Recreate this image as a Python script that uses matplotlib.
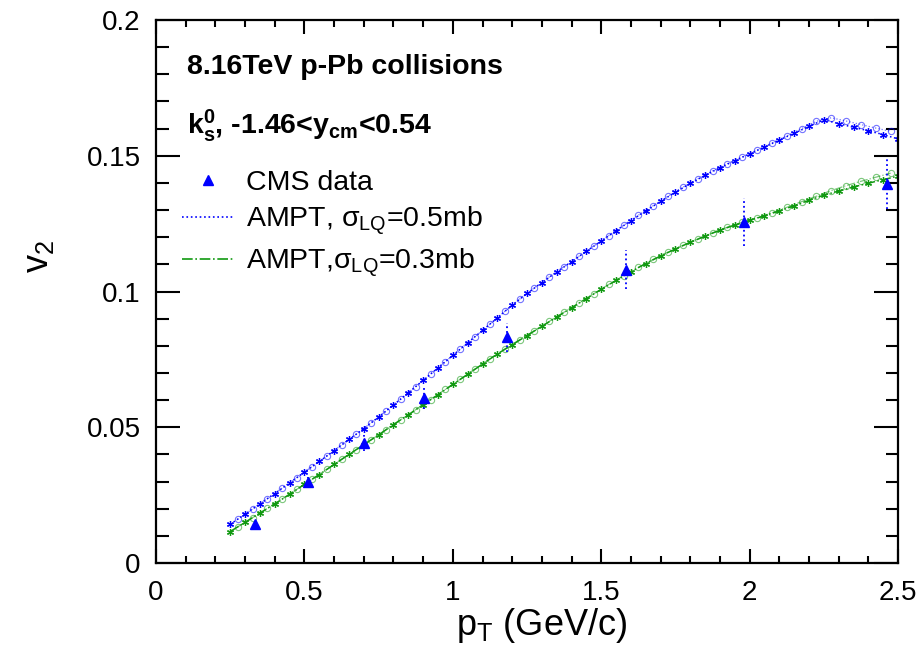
import numpy as np
import matplotlib
matplotlib.use("Agg")
import matplotlib.pyplot as plt
from matplotlib.lines import Line2D
from matplotlib.ticker import MultipleLocator

# ---- data ----
# CMS K0s v2 points
cms_pt = [0.334, 0.513, 0.701, 0.903, 1.183, 1.584, 1.980, 2.463]
cms_v2 = [0.0143, 0.0298, 0.0441, 0.0607, 0.0831, 0.1081, 0.1257, 0.1397]
cms_err = [0.0010, 0.0020, 0.0030, 0.0040, 0.0053, 0.0072, 0.0088, 0.0092]

# AMPT curves: star-marker set
pt_a = [0.25, 0.30, 0.35, 0.40, 0.45, 0.50, 0.55, 0.60, 0.65, 0.70, 0.75, 0.80,
        0.85, 0.90, 0.95, 1.00, 1.05, 1.10, 1.15, 1.20, 1.25, 1.30, 1.35, 1.40,
        1.45, 1.50, 1.55, 1.60, 1.65, 1.70, 1.75, 1.80, 1.85, 1.90, 1.95, 2.00,
        2.05, 2.10, 2.15, 2.20, 2.25, 2.30, 2.35, 2.40, 2.45, 2.50]
v2_05_a = [0.0143, 0.0180, 0.0218, 0.0256, 0.0295, 0.0335, 0.0374, 0.0414,
           0.0455, 0.0495, 0.0538, 0.0582, 0.0627, 0.0673, 0.0719, 0.0765,
           0.0811, 0.0857, 0.0903, 0.0950, 0.0993, 0.1033, 0.1072, 0.1110,
           0.1148, 0.1186, 0.1224, 0.1261, 0.1297, 0.1332, 0.1366, 0.1398,
           0.1428, 0.1456, 0.1482, 0.1507, 0.1532, 0.1558, 0.1583, 0.1608,
           0.1633, 0.1618, 0.1605, 0.1592, 0.1578, 0.1562]
v2_03_a = [0.0116, 0.0150, 0.0184, 0.0218, 0.0253, 0.0290, 0.0326, 0.0363,
           0.0400, 0.0436, 0.0472, 0.0510, 0.0546, 0.0583, 0.0620, 0.0658,
           0.0695, 0.0733, 0.0770, 0.0804, 0.0838, 0.0872, 0.0906, 0.0940,
           0.0974, 0.1008, 0.1041, 0.1073, 0.1103, 0.1131, 0.1157, 0.1181,
           0.1204, 0.1226, 0.1245, 0.1262, 0.1279, 0.1297, 0.1316, 0.1336,
           0.1355, 0.1370, 0.1385, 0.1399, 0.1412, 0.1425]

# AMPT curves: open-circle set
pt_b = [0.275, 0.325, 0.375, 0.425, 0.475, 0.525, 0.575, 0.625, 0.675, 0.725,
        0.775, 0.825, 0.875, 0.925, 0.975, 1.025, 1.075, 1.125, 1.175, 1.225,
        1.275, 1.325, 1.375, 1.425, 1.475, 1.525, 1.575, 1.625, 1.675, 1.725,
        1.775, 1.825, 1.875, 1.925, 1.975, 2.025, 2.075, 2.125, 2.175, 2.225,
        2.275, 2.325, 2.375, 2.425, 2.475]
v2_05_b = [0.0161, 0.0199, 0.0237, 0.0276, 0.0315, 0.0355, 0.0394, 0.0435,
           0.0475, 0.0517, 0.0560, 0.0605, 0.0650, 0.0696, 0.0742, 0.0788,
           0.0834, 0.0880, 0.0927, 0.0972, 0.1014, 0.1054, 0.1092, 0.1130,
           0.1168, 0.1206, 0.1244, 0.1281, 0.1316, 0.1351, 0.1384, 0.1415,
           0.1444, 0.1471, 0.1496, 0.1521, 0.1547, 0.1573, 0.1600, 0.1627,
           0.1640, 0.1628, 0.1615, 0.1602, 0.1590]
v2_03_b = [0.0133, 0.0167, 0.0201, 0.0236, 0.0272, 0.0308, 0.0345, 0.0382,
           0.0418, 0.0454, 0.0491, 0.0528, 0.0565, 0.0602, 0.0640, 0.0677,
           0.0715, 0.0752, 0.0788, 0.0822, 0.0856, 0.0890, 0.0924, 0.0958,
           0.0992, 0.1026, 0.1058, 0.1089, 0.1118, 0.1145, 0.1170, 0.1194,
           0.1216, 0.1237, 0.1255, 0.1272, 0.1290, 0.1310, 0.1331, 0.1351,
           0.1372, 0.1390, 0.1406, 0.1421, 0.1436]

x_ticks = [0, 0.5, 1, 1.5, 2, 2.5]
x_labels = ["0", "0.5", "1", "1.5", "2", "2.5"]
y_ticks = [0, 0.05, 0.1, 0.15, 0.2]
y_labels = ["0", "0.05", "0.1", "0.15", "0.2"]

# ---- style ----
plt.rcParams['font.family'] = ['Liberation Sans', 'DejaVu Sans']
plt.rcParams['mathtext.fontset'] = 'custom'
plt.rcParams['mathtext.rm'] = 'Liberation Sans'
plt.rcParams['mathtext.it'] = 'Liberation Sans'
plt.rcParams['mathtext.bf'] = 'Liberation Sans:bold'

blue = '#0000ff'
green = '#119911'
star = (6, 2, 0)

fig = plt.figure(figsize=(9.19, 6.5), dpi=100)
ax = fig.add_axes([0.1698, 0.1338, 0.8074, 0.8354])

# AMPT sigma=0.5mb (blue, dotted)
ax.plot(pt_a, v2_05_a, ls=':', lw=1.1, color=blue, marker=star, ms=5, mew=0.9)
ax.plot(pt_b, v2_05_b, ls=':', lw=0.9, color=blue, marker='o', ms=4.5, mew=0.8,
        mfc='none', alpha=0.55)
# AMPT sigma=0.3mb (green, dash-dot)
ax.plot(pt_a, v2_03_a, ls='-.', lw=1.1, color=green, marker=star, ms=5, mew=0.9)
ax.plot(pt_b, v2_03_b, ls='-.', lw=0.9, color=green, marker='o', ms=4.5, mew=0.8,
        mfc='none', alpha=0.55)

# CMS data
eb = ax.errorbar(cms_pt, cms_v2, yerr=cms_err, fmt='^', color=blue, ms=7,
                 elinewidth=1.3, capsize=0, zorder=5)
eb[2][0].set_linestyle(':')

ax.set_xlim(0, 2.5)
ax.set_ylim(0, 0.2)
ax.set_xticks(x_ticks)
ax.set_xticklabels(x_labels)
ax.set_yticks(y_ticks)
ax.set_yticklabels(y_labels)
ax.xaxis.set_minor_locator(MultipleLocator(0.1))
ax.yaxis.set_minor_locator(MultipleLocator(0.01))
ax.tick_params(axis='both', which='both', direction='in', top=True, right=True,
               labelsize=20, width=1.5)
ax.tick_params(axis='x', which='major', length=10, pad=12)
ax.tick_params(axis='x', which='minor', length=5)
ax.tick_params(axis='y', which='major', length=17, pad=11)
ax.tick_params(axis='y', which='minor', length=9)
for sp in ax.spines.values():
    sp.set_linewidth(1.6)

ax.set_xlabel(r'p$_{\mathrm{T}}$ (GeV/c)', fontsize=26)
ax.xaxis.set_label_coords(0.52, -0.08)
ax.set_ylabel(r'v$_{2}$', fontsize=26)
ax.yaxis.set_label_coords(-0.135, 0.565)

ax.text(0.042, 0.913, '8.16TeV p-Pb collisions', transform=ax.transAxes,
        fontsize=20.5, fontweight='bold', va='center', ha='left')
ax.text(0.042, 0.805, r'$\mathbf{k_{s}^{0}}$, -1.46<$\mathbf{y_{cm}}$<0.54',
        transform=ax.transAxes, fontsize=20.5, fontweight='bold', va='center',
        ha='left')

handles = [Line2D([], [], ls='none', marker='^', color=blue, ms=7),
           Line2D([], [], ls=':', lw=1.2, color=blue),
           Line2D([], [], ls='-.', lw=1.2, color=green)]
labels = ['CMS data', 'AMPT, σ$_{\\mathrm{LQ}}$=0.5mb', 'AMPT,σ$_{\\mathrm{LQ}}$=0.3mb']
ax.legend(handles, labels, loc='upper left', bbox_to_anchor=(0.035, 0.724),
          frameon=False, fontsize=20.5, handlelength=1.8, handletextpad=0.45,
          labelspacing=0.3, borderaxespad=0, borderpad=0)

fig.savefig('out.png', dpi=100)
